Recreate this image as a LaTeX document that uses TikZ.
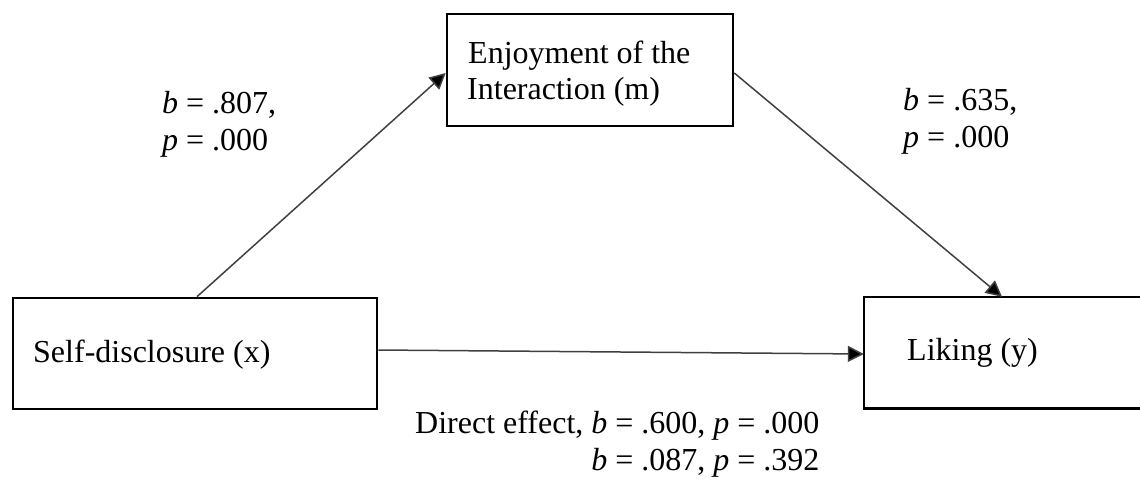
\documentclass[tikz,border=0pt]{standalone}
\usepackage{fontspec}
\setmainfont{Liberation Serif}
\usetikzlibrary{arrows.meta}
\begin{document}
\begin{tikzpicture}[x=1pt,y=-1pt,
  box/.style={draw=black,line width=2.6pt,inner sep=0pt},
  boxline/.style={draw=black,line width=2.6pt},
  lbl/.style={font=\fontsize{32}{37}\selectfont,inner sep=0pt,anchor=base west},
  arr/.style={draw=black!75,line width=1.5pt,-{Triangle[length=16pt,width=16pt,fill=black]}}]
\useasboundingbox (0,0) rectangle (1140,482);
% boxes
\node[box,minimum width=286pt,minimum height=112pt] (m) at (590,70) {};
\node[box,minimum width=364pt,minimum height=111pt] (x) at (195,353.5) {};
\node[inner sep=0pt,minimum width=276pt,minimum height=111pt] (y) at (1002,352.5) {};
\coordinate (ytr) at ([xshift=30pt]y.north east);
\coordinate (ybr) at ([xshift=30pt]y.south east);
\draw[boxline] (ytr) -- (y.north west) -- (y.south west) -- (ybr);
% box texts
\node[lbl] (mt1) at (468,63) {Enjoyment of the};
\node[lbl] (mt2) at (467,99) {Interaction (m)};
\node[lbl] (xt) at (33,362) {Self-disclosure (x)};
\node[lbl] (yt) at (907,360) {Liking (y)};
% path labels
\node[lbl] (a1) at (162,113) {\textit{b} = .807,};
\node[lbl] (a2) at (162,150) {\textit{p} = .000};
\node[lbl] (b1) at (903,110) {\textit{b} = .635,};
\node[lbl] (b2) at (903,147) {\textit{p} = .000};
\node[lbl] (c1) at (415,433) {Direct effect, \textit{b} = .600, \textit{p} = .000};
\node[lbl,anchor=base east] (c2) at (c1.base east |- 0,470) {\textit{b} = .087, \textit{p} = .392};
% connectors
\draw[arr] ([xshift=2pt]x.north) -- ([yshift=-3pt]m.west);
\draw[arr] ([yshift=-3pt]m.east) -- (y.north);
\draw[arr] ([yshift=3.5pt]x.east) -- ([yshift=-1.5pt]y.west);
\end{tikzpicture}
\end{document}
